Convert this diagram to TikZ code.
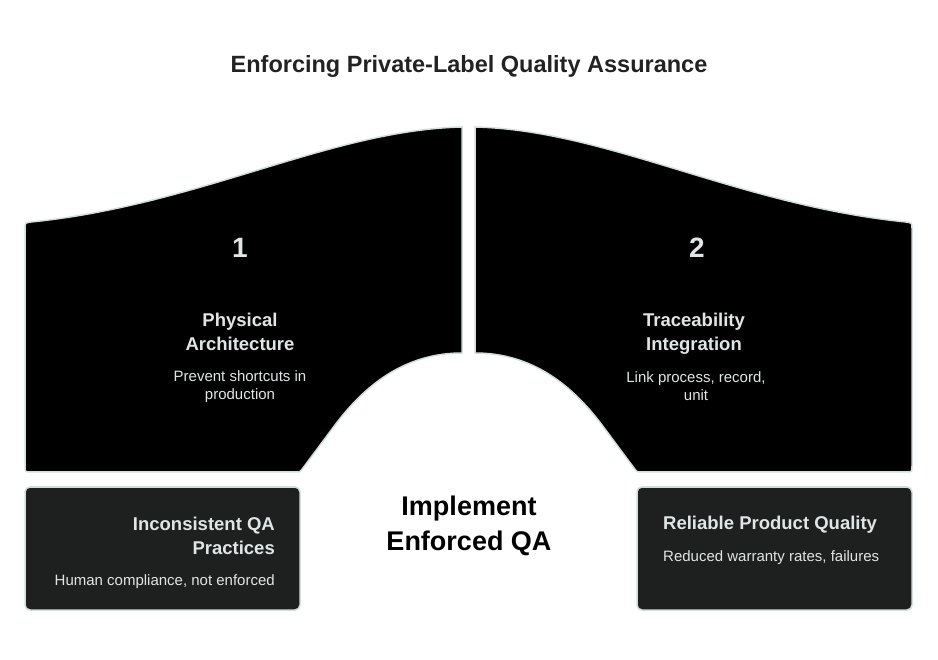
\documentclass[tikz,border=0pt]{standalone}
\usepackage{fontspec}
\setmainfont{Liberation Sans}

\definecolor{edgegray}{HTML}{D3DDDD}
\definecolor{boxfill}{HTML}{1E1F1F}
\definecolor{lighttext}{HTML}{E0E5E5}
\definecolor{titlegray}{HTML}{222222}

\tikzset{
    panel/.style={fill=black, draw=edgegray, line width=1.5pt},
    box/.style={fill=boxfill, draw=edgegray, line width=1.5pt, rounded corners=5pt,
        minimum width=275pt, minimum height=123pt, inner sep=0pt},
    num/.style={text=lighttext, font=\fontsize{28}{30}\selectfont\bfseries},
    head/.style={text=lighttext, inner sep=0pt, font=\fontsize{18.5}{24}\selectfont\bfseries},
    sub/.style={text=lighttext, inner sep=0pt, font=\fontsize{15}{18}\selectfont},
}

\begin{document}
\begin{tikzpicture}[x=1pt, y=-1pt]
            \useasboundingbox (0,0) rectangle (938,660);

            % Title
            \node[text=titlegray, font=\fontsize{23.5}{26}\selectfont\bfseries] (title) at (469,66.5)
                {Enforcing Private-Label Quality Assurance};

            % Draw the left panel
            \draw[panel] (25,228) .. controls (25,223) .. (31,222)
                .. controls (200,205) and (330,130) .. (462,127) -- (462,353)
                .. controls (405,353) and (365,385) .. (335,425) -- (303,468)
                .. controls (300,472) .. (296,472) -- (31,472)
                .. controls (25,472) .. (25,466) -- cycle;

            % Draw the right panel
            \draw[panel] (912,228) .. controls (912,223) .. (906,222)
                .. controls (737,205) and (607,130) .. (475,127) -- (475,353)
                .. controls (532,353) and (572,385) .. (602,425) -- (634,468)
                .. controls (637,472) .. (641,472) -- (906,472)
                .. controls (912,472) .. (912,466) -- cycle;

            % Panel texts
            \node[num] (num1) at (240,248) {1};
            \node[head, align=center] (arch) at (240,332) {Physical\\Architecture};
            \node[sub, align=center] (archsub) at (240,387) {Prevent shortcuts in\\production};

            \node[num] (num2) at (697,248) {2};
            \node[head, align=center] (trace) at (694,334) {Traceability\\Integration};
            \node[sub, align=center] (tracesub) at (696,386.5) {Link process, record,\\unit};

            % Bottom boxes
            \node[box] (gapbox) at (162.5,548.5) {};
            \node[box] (goalbox) at (774.5,548.5) {};

            \node[head, align=right, anchor=east] (gap) at (275,536) {Inconsistent QA\\Practices};
            \node[sub, anchor=east] (gapsub) at (275,582) {Human compliance, not enforced};

            \node[head, anchor=west] (goal) at (663,525) {Reliable Product Quality};
            \node[sub, anchor=west] (goalsub) at (663,557.5) {Reduced warranty rates, failures};

            % Centre text
            \node[text=black, align=center, font=\fontsize{27}{35}\selectfont\bfseries] (centre) at (469,526)
                {Implement\\Enforced QA};
        \end{tikzpicture}
\end{document}
